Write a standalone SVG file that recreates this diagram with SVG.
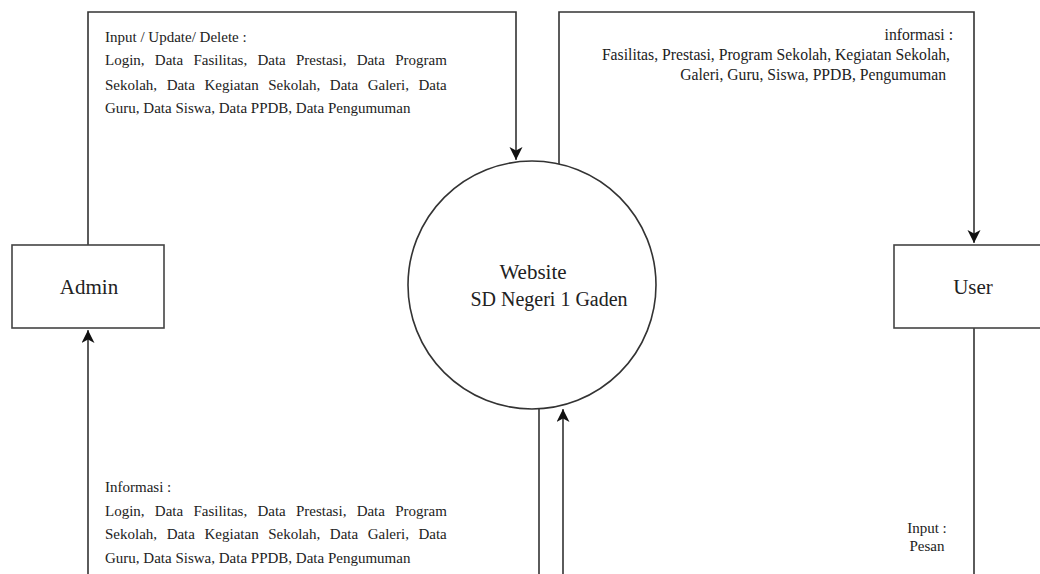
<svg xmlns="http://www.w3.org/2000/svg" width="1040" height="574" viewBox="0 0 1040 574">
<defs>
<marker id="arr" markerWidth="12" markerHeight="14" refX="13" refY="6.5" orient="auto" markerUnits="userSpaceOnUse">
<path d="M0,0 L13,6.5 L0,13 L3.5,6.5 Z" fill="#111"/>
</marker>
<style>
.ln{fill:none;stroke:#333;stroke-width:1.6}
.bx{fill:#fff;stroke:#444;stroke-width:1.6}
.t{font-family:"Liberation Serif","Times New Roman",serif;fill:#222}
.s{font-size:15px}
.r{font-size:15.7px}
.b{font-size:21px}
</style>
</defs>
<rect width="1040" height="574" fill="#fff"/>
<g id="connectors">
<path class="ln" d="M88,245 V12 H516 V160" marker-end="url(#arr)"/>
<path class="ln" d="M559,164 V12 H974 V243" marker-end="url(#arr)"/>
<path class="ln" d="M88,574 V330" marker-end="url(#arr)"/>
<path class="ln" d="M539,409 V574"/>
<path class="ln" d="M563,574 V409" marker-end="url(#arr)"/>
<path class="ln" d="M974,328 V574"/>
</g>
<g id="labels">
<text class="t s" x="105" y="42">Input / Update/ Delete :</text>
<text class="t s" x="105" y="65" word-spacing="6.5">Login, Data Fasilitas, Data Prestasi, Data Program</text>
<text class="t s" x="105" y="90" word-spacing="5.8">Sekolah, Data Kegiatan Sekolah, Data Galeri, Data</text>
<text class="t s" x="105" y="113">Guru, Data Siswa, Data PPDB, Data Pengumuman</text>
<text class="t r" x="953" y="40" text-anchor="end">informasi :</text>
<text class="t r" x="950" y="60" text-anchor="end">Fasilitas, Prestasi, Program Sekolah, Kegiatan Sekolah,</text>
<text class="t r" x="946" y="80" text-anchor="end">Galeri, Guru, Siswa, PPDB, Pengumuman</text>
<text class="t s" x="105" y="492">Informasi :</text>
<text class="t s" x="105" y="516" word-spacing="6.5">Login, Data Fasilitas, Data Prestasi, Data Program</text>
<text class="t s" x="105" y="539" word-spacing="5.8">Sekolah, Data Kegiatan Sekolah, Data Galeri, Data</text>
<text class="t s" x="105" y="563">Guru, Data Siswa, Data PPDB, Data Pengumuman</text>
<text class="t s" x="927" y="533" text-anchor="middle">Input :</text>
<text class="t s" x="927" y="551" text-anchor="middle">Pesan</text>
</g>
<g id="admin">
<rect class="bx" x="12" y="245" width="152" height="83"/>
<text class="t b" x="89" y="294" text-anchor="middle">Admin</text>
</g>
<g id="user">
<rect class="bx" x="894" y="245" width="160" height="83"/>
<text class="t b" x="973" y="294" text-anchor="middle">User</text>
</g>
<g id="website">
<circle cx="532" cy="285" r="124" fill="#fff" stroke="#333" stroke-width="1.6"/>
<text class="t b" x="533" y="279" text-anchor="middle">Website</text>
<text class="t" style="font-size:20px" x="549" y="306" text-anchor="middle">SD Negeri 1 Gaden</text>
</g>
</svg>
